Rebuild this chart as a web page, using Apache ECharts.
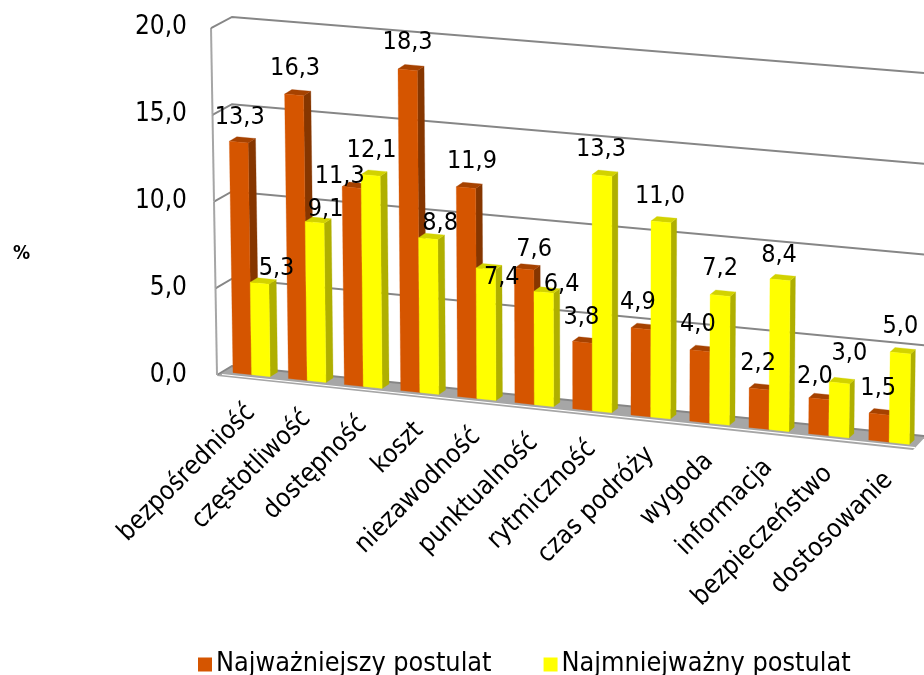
<!DOCTYPE html>
<html><head><meta charset="utf-8">
<style>html,body{margin:0;padding:0;background:#fff}#c{width:924px;height:675px}</style>
<script src="https://cdn.jsdelivr.net/npm/echarts@6/dist/echarts.min.js"></script>
</head><body><div id="c"></div>
<script>
const categories = ['bezpośredniość','częstotliwość','dostępność','koszt','niezawodność','punktualność','rytmiczność','czas podróży','wygoda','informacja','bezpieczeństwo','dostosowanie'];
const najwazniejszy = [13.3,16.3,11.3,18.3,11.9,7.6,3.8,4.9,4.0,2.2,2.0,1.5];
const najmniejwazny = [5.3,9.1,12.1,8.8,7.4,6.4,13.3,11.0,7.2,8.4,3.0,5.0];
const yTicks = [0,5,10,15,20];
const seriesNames = ['Najważniejszy postulat','Najmniejważny postulat'];

// hand placement of the value labels relative to the default spot above each bar
const nudgeA = [[1,0],[1,-1],[-12,14],[0,-2],[6,-1],[10,5],[-1,0],[-3,-1],[-2,-1],[-1,-1],[-4,3],[-1,-1]];
const nudgeB = [[17,10],[11,12],[1,0],[12,10],[16,34],[18,17],[-1,-1],[-1,0],[0,-2],[-1,1],[10,-4],[0,-1]];

const FONT = '"DejaVu Sans Condensed","DejaVu Sans",sans-serif';
const GL = 205, BAND = 58, BOTTOM = 375;

// oblique/perspective view of the flat grid
function warp(px){ const t=(px-214)/BAND; return 233+55.2*t+0.236*t*t; }
function project(px,py,d){
  d=d||0;
  const h=BOTTOM-py, xb=warp(px);
  const X=xb+(xb-600)*0.000043*h;
  const Y=372.7+(xb-233)*(0.106-0.0000575*h)-h;
  return [X+d*(7.5-(xb-233)*0.004), Y-4.5*d];
}
const fmt = v => v.toFixed(1).replace('.',',');

function barItem(front,top,side,startK,widthK){
  return function(params,api){
    const c=api.coord([api.value(0),api.value(1)]);
    const b=api.size([1,0])[0];
    const l=c[0]+startK*b, r=l+widthK*b;
    const y0=api.coord([0,0])[1];
    const fl0=project(l,y0),fr0=project(r,y0),fr1=project(r,c[1]),fl1=project(l,c[1]);
    const bl1=project(l,c[1],1),br1=project(r,c[1],1),br0=project(r,y0,1);
    const poly=(pts,fill)=>({type:'polygon',shape:{points:pts},style:{fill:fill,stroke:fill,lineWidth:0.3}});
    return {type:'group',children:[
      poly([fr0,br0,br1,fr1],side),
      poly([fl1,fr1,br1,bl1],top),
      poly([fl0,fr0,fr1,fl1],front)
    ]};
  };
}
function wallItem(params,api){
  const v=api.value(1), py=api.coord([0,v])[1], h=BOTTOM-py;
  const children=[];
  const back=[232,366-h*1.003];
  const sl=0.101-0.0000575*h;
  const frontPt=hh=>[217-0.0172*hh,375-0.997*hh];
  if(v===0){
    children.push({type:'polygon',shape:{points:[[217,376],[232,366],[926,366+694*0.101],[913,450]]},style:{fill:'#a6a6a6'}});
    children.push({type:'polyline',shape:{points:[[222,374.5],[915,447.6]]},style:{stroke:'#fff',lineWidth:1.2,fill:null}});
  }
  children.push({type:'polyline',shape:{points:[frontPt(h),back,[960,back[1]+728*sl]]},style:{stroke:'#868686',lineWidth:2,fill:null}});
  if(v<20){
    const h2=BOTTOM-api.coord([0,v+5])[1];
    children.push({type:'polyline',shape:{points:[frontPt(h),frontPt(h2)]},style:{stroke:'#a6a6a6',lineWidth:2,fill:null}});
  }
  return {type:'group',children:children};
}
function valueLabelItem(startK,widthK,nudges){
  return function(params,api){
    const i=api.value(0), v=api.value(1);
    const c=api.coord([i,v]), b=api.size([1,0])[0];
    const p=project(c[0]+(startK+widthK/2)*b,c[1]);
    const n=nudges[i];
    return {type:'text',x:p[0]+n[0],y:p[1]-25+n[1],style:{text:fmt(v),font:'25px '+FONT,fill:'#000',textAlign:'center',textVerticalAlign:'middle'}};
  };
}
function catLabelItem(params,api){
  const i=api.value(0), c=api.coord([i,0]);
  const p=project(c[0],c[1]);
  return {type:'text',x:p[0]-1,y:p[1]+34,rotation:Math.PI/4,style:{text:categories[i],font:'26px '+FONT,fill:'#000',textAlign:'right',textVerticalAlign:'middle'}};
}
const rowsA=najwazniejszy.map((v,i)=>[i,v]), rowsB=najmniejwazny.map((v,i)=>[i,v]);
const ORANGE='#D55500', YELLOW='#FFFF00';
const chart=echarts.init(document.getElementById('c'),null,{renderer:'canvas'});
chart.setOption({
  animation:false,
  backgroundColor:'#fff',
  grid:{left:GL,top:27,width:BAND*categories.length,height:348},
  xAxis:{type:'category',data:categories,show:false},
  yAxis:{type:'value',min:0,max:20,interval:5,axisLine:{show:false},axisTick:{show:false},splitLine:{show:false},
    axisLabel:{formatter:fmt,fontFamily:FONT,fontSize:26,color:'#000',margin:18,padding:[8,0,0,0]}},
  legend:{data:seriesNames,left:193,top:646,itemWidth:14,itemHeight:14,itemGap:52,icon:'rect',
    textStyle:{fontFamily:FONT,fontSize:26.8,color:'#000',padding:[0,0,0,-1]}},
  graphic:[{type:'text',left:13,top:245,style:{text:'%',font:'bold 19px '+FONT,fill:'#000'}}],
  series:[
    {type:'custom',name:'walls',silent:true,z:1,data:yTicks.map(v=>[0,v]),renderItem:wallItem,legendHoverLink:false},
    {type:'custom',name:seriesNames[0],z:2,data:rowsA,itemStyle:{color:ORANGE},renderItem:barItem(ORANGE,'#A64200','#863600',-0.345,0.336)},
    {type:'custom',name:seriesNames[1],z:3,data:rowsB,itemStyle:{color:YELLOW},renderItem:barItem(YELLOW,'#D2D200','#AFAF00',-0.009,0.336)},
    {type:'custom',name:'labelsA',silent:true,z:5,data:rowsA,renderItem:valueLabelItem(-0.345,0.336,nudgeA)},
    {type:'custom',name:'labelsB',silent:true,z:5,data:rowsB,renderItem:valueLabelItem(-0.009,0.336,nudgeB)},
    {type:'custom',name:'cats',silent:true,z:5,data:categories.map((c,i)=>[i,0]),renderItem:catLabelItem}
  ]
});
</script></body></html>
